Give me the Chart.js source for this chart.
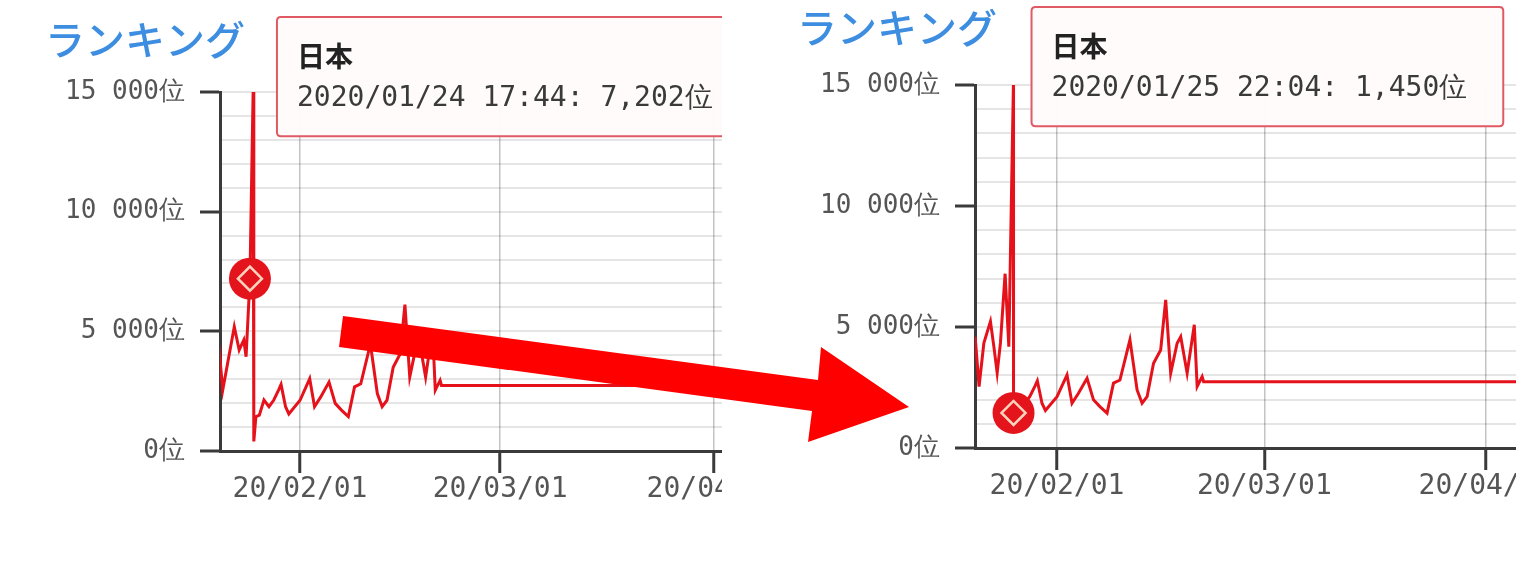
<!DOCTYPE html>
<html>
<head>
<meta charset="utf-8">
<script src="https://cdn.jsdelivr.net/npm/chart.js@4.4.1/dist/chart.umd.min.js"></script>
<style>
  html, body { margin: 0; padding: 0; background: #fff; }
  body { width: 1536px; height: 566px; position: relative; overflow: hidden; }
  .panel { position: absolute; top: 0; height: 566px; overflow: hidden; }
  #leftBox { left: 0; width: 722px; }
  #rightBox { left: 780px; width: 736px; }
  #arrow { position: absolute; left: 0; top: 0; }
</style>
</head>
<body>
<div class="panel" id="leftBox"><canvas id="leftChart" width="900" height="566"></canvas></div>
<div class="panel" id="rightBox"><canvas id="rightChart" width="900" height="566"></canvas></div>
<svg id="arrow" width="1536" height="566">
  <polygon points="343,316 818,380 821,347 909,407 808,442 812,411 339,347" fill="#ff0000"/>
</svg>
<script>
// x = days since 2020-01-01 (Jan 1 = 0)
var xTickDays = [31, 60, 91];
var xTickLabels = ['20/02/01', '20/03/01', '20/04/01'];
var yLabelValues = [0, 5000, 10000, 15000];
var yLabelTexts = ['0位', '5 000位', '10 000位', '15 000位'];

var chartTitle = 'ランキング';
var tipTitle = '日本';

// early part differs between the two screenshots
var leftEarlyDays  = [19.14, 19.8, 21.47, 22.18, 22.85, 23.18, 23.74, 24.2, 24.3, 24.6];
var leftEarlyRanks = [4640, 2550, 5190, 4220, 4640, 3940, 7202, 15000, 400, 1430];
var rightEarlyDays  = [19.55, 20.1, 20.77, 21.69, 22.17, 22.63, 23.09, 23.74, 24.26, 24.9, 24.92];
var rightEarlyRanks = [4600, 2540, 4340, 5230, 4190, 3100, 4340, 7202, 4190, 15000, 1450];

// shared rest of the series
var mainDays  = [25.1, 25.77, 26.5, 27.2, 27.9, 28.25, 28.9, 29.38, 31.0, 32.4, 33.1, 34.0, 35.2, 36.1, 37.0, 38.0, 38.9, 39.8, 41.2, 42.2, 42.9, 43.6, 44.5, 45.5, 46.2, 46.9, 47.8, 48.3, 49.2, 50.2, 50.6, 51.3, 51.5, 110];
var mainRanks = [1500, 2130, 1850, 2130, 2550, 2780, 1850, 1550, 2120, 3020, 1850, 2260, 2880, 1990, 1710, 1440, 2680, 2810, 4470, 2400, 1850, 2120, 3500, 4050, 6120, 3090, 4330, 4600, 3090, 5090, 2540, 2950, 2740, 2740];

// hovered points
var hlTimes = ['2020/01/24 17:44', '2020/01/25 22:04'];
var hlRanks = [7202, 1450];

function dayOf(t) {
  var p = t.split(/[\/ :]/).map(Number);
  return (Date.UTC(p[0], p[1] - 1, p[2], p[3], p[4]) - Date.UTC(2020, 0, 1)) / 864e5;
}

Chart.Tooltip.positioners.pinned = function(items) {
  if (!items.length) return false;
  var t = this.chart.$tip;
  return { x: items[0].element.x + t.dx + 4, y: t.top };
};

var red = '#e5121b';
var axisCol = '#3a3a3a';

function makePanel(id, days, ranks, hl, o) {
  var pts = days.map(function(d, i) { return { x: d, y: ranks[i] }; });
  var hlPt = [{ x: dayOf(hlTimes[hl]), y: hlRanks[hl] }];
  var hlIndex = pts.findIndex(function(p) { return p.y === hlRanks[hl]; });
  var label = hlTimes[hl] + ': ' + hlRanks[hl].toLocaleString('en-US') + '位';

  var chart = new Chart(document.getElementById(id), {
    type: 'line',
    data: {
      datasets: [{
        data: pts, borderColor: red, borderWidth: 3, pointRadius: 0, tension: 0, order: 2
      }, {
        data: hlPt, showLine: false, pointRadius: 21, pointBackgroundColor: '#e4141c',
        pointBorderWidth: 0, order: 1
      }, {
        data: hlPt, showLine: false, pointStyle: 'rectRot', pointRadius: 12,
        pointBackgroundColor: '#e4141c', pointBorderColor: '#fbd3bd', pointBorderWidth: 2.5, order: 0
      }]
    },
    options: {
      responsive: false,
      animation: false,
      events: [],
      layout: { padding: { left: o.padLeft, right: 0, top: 0, bottom: 0 } },
      plugins: {
        legend: { display: false },
        title: {
          display: true, text: chartTitle, align: 'start', color: '#3d8de0',
          font: { family: "'Noto Sans CJK JP', sans-serif", size: 40, weight: '500' },
          padding: { top: o.titleTop, bottom: o.titleBottom }
        },
        tooltip: {
          enabled: true, position: 'pinned', xAlign: 'left', yAlign: 'top',
          caretSize: 0, caretPadding: 0, cornerRadius: 4,
          backgroundColor: 'rgba(255,251,251,0.97)', borderColor: '#e05a64', borderWidth: 2,
          titleColor: '#222', bodyColor: '#3a3a3a', displayColors: false,
          titleFont: { family: "'Noto Sans CJK JP', sans-serif", size: 28, weight: 'bold' },
          bodyFont: { family: "'DejaVu Sans Mono', monospace", size: 28 },
          titleMarginBottom: 8,
          padding: { top: 23, bottom: 21, left: 20, right: 36 },
          callbacks: {
            title: function() { return tipTitle; },
            label: function() { return label; }
          }
        }
      },
      scales: {
        x: {
          type: 'linear', min: o.xMin, max: o.xMin + 100,
          afterBuildTicks: function(s) { s.ticks = xTickDays.map(function(v) { return { value: v }; }); },
          afterFit: function(s) { s.height = o.xAxisHeight; },
          ticks: {
            autoSkip: false, maxRotation: 0, padding: 0, color: '#555',
            font: { family: "'DejaVu Sans Mono', monospace", size: 28 },
            callback: function(v) { return xTickLabels[xTickDays.indexOf(v)]; }
          },
          grid: { color: '#c4c4c4', lineWidth: 1.5, tickColor: axisCol, tickWidth: 3, tickLength: 22 },
          border: { color: axisCol, width: 3 }
        },
        y: {
          min: 0, max: 15000,
          afterFit: function(s) { s.width = o.yWidth; },
          ticks: {
            stepSize: 1000, autoSkip: false, padding: 15, color: '#555',
            font: { family: "'DejaVu Sans Mono', monospace", size: 26 },
            callback: function(v) {
              var i = yLabelValues.indexOf(v);
              return i < 0 ? '' : yLabelTexts[i];
            }
          },
          grid: {
            color: 'rgba(0,0,0,0.1)', lineWidth: 2, tickLength: 20, tickWidth: 3,
            tickColor: function(ctx) {
              return ctx.tick && yLabelValues.indexOf(ctx.tick.value) >= 0 ? axisCol : 'rgba(0,0,0,0)';
            }
          },
          border: { color: axisCol, width: 3 }
        }
      }
    }
  });
  // fit the x range so one day spans the same width as in the screenshot
  for (var k = 0; k < 2; k++) {
    var ca = chart.chartArea;
    chart.options.scales.x.max = o.xMin + (ca.right - ca.left) / o.pxPerDay;
    chart.update();
  }
  chart.$tip = { dx: o.tipDx, top: o.tipTop };
  chart.tooltip.setActiveElements([{ datasetIndex: 0, index: hlIndex }], { x: 0, y: 0 });
  chart.update();
  return chart;
}

makePanel('leftChart', leftEarlyDays.concat(mainDays), leftEarlyRanks.concat(mainRanks), 0, {
  padLeft: 45, yWidth: 175, xMin: 19.40, pxPerDay: 6.9,
  titleTop: 16, titleBottom: 28, xAxisHeight: 115, tipDx: 27, tipTop: 17
});
makePanel('rightChart', rightEarlyDays.concat(mainDays), rightEarlyRanks.concat(mainRanks), 1, {
  padLeft: 17, yWidth: 178, xMin: 19.53, pxPerDay: 7.15,
  titleTop: 4, titleBottom: 33, xAxisHeight: 118, tipDx: 18, tipTop: 7
});
</script>
</body>
</html>
